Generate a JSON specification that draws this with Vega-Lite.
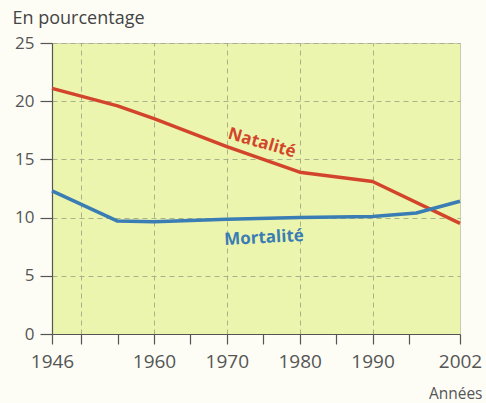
{
  "$schema": "https://vega.github.io/schema/vega-lite/v6.json",
  "width": 408,
  "height": 291,
  "autosize": {"type": "none"},
  "padding": {"left": 52, "top": 43, "right": 26, "bottom": 69},
  "background": "#fdfdf6",
  "config": {
    "view": {"stroke": "#c8cdb0", "strokeWidth": 1, "fill": "#ecf5ad"},
    "font": "Open Sans"
  },
  "datasets": {
    "series": [
      {"annee": 1946, "taux": 21.1, "serie": "Natalité"},
      {"annee": 1955, "taux": 19.6, "serie": "Natalité"},
      {"annee": 1960, "taux": 18.5, "serie": "Natalité"},
      {"annee": 1970, "taux": 16.1, "serie": "Natalité"},
      {"annee": 1980, "taux": 13.9, "serie": "Natalité"},
      {"annee": 1990, "taux": 13.1, "serie": "Natalité"},
      {"annee": 2002, "taux": 9.5, "serie": "Natalité"},
      {"annee": 1946, "taux": 12.3, "serie": "Mortalité"},
      {"annee": 1955, "taux": 9.7, "serie": "Mortalité"},
      {"annee": 1960, "taux": 9.65, "serie": "Mortalité"},
      {"annee": 1970, "taux": 9.85, "serie": "Mortalité"},
      {"annee": 1980, "taux": 10.0, "serie": "Mortalité"},
      {"annee": 1990, "taux": 10.1, "serie": "Mortalité"},
      {"annee": 1996, "taux": 10.4, "serie": "Mortalité"},
      {"annee": 2002, "taux": 11.4, "serie": "Mortalité"}
    ],
    "labels": [
      {"annee": 1974.8, "taux": 16.4, "serie": "Natalité", "angle": 16},
      {"annee": 1975.1, "taux": 8.25, "serie": "Mortalité", "angle": -3}
    ]
  },
  "resolve": {"axis": {"x": "independent"}},
  "layer": [
    {
      "data": {"name": "series"},
      "mark": {"type": "line", "strokeWidth": 3.5, "strokeJoin": "round", "strokeCap": "butt"},
      "encoding": {
        "x": {
          "field": "annee", "type": "quantitative",
          "scale": {"domain": [1946, 2002], "nice": false, "zero": false},
          "axis": {
            "orient": "top",
            "values": [1950, 1960, 1970, 1980, 1990],
            "labels": false, "ticks": false, "domain": false, "title": null,
            "grid": true, "gridDash": [5, 4], "gridColor": "#a9b08a", "gridWidth": 1
          }
        },
        "y": {
          "field": "taux", "type": "quantitative",
          "scale": {"domain": [0, 25], "nice": false},
          "axis": {
            "values": [0, 5, 10, 15, 20, 25],
            "title": "En pourcentage",
            "titleAngle": 0, "titleAlign": "left", "titleBaseline": "alphabetic",
            "titleX": -40, "titleY": -20,
            "titleFont": "Open Sans", "titleFontWeight": "normal", "titleFontSize": 18, "titleColor": "#444444",
            "grid": true, "gridDash": [5, 4], "gridColor": "#a9b08a", "gridWidth": 1,
            "domainColor": "#555555", "domainWidth": 1.2,
            "tickColor": "#555555", "tickSize": 12, "tickWidth": 1.2,
            "labelFont": "Open Sans", "labelFontSize": 17, "labelColor": "#555555",
            "labelPadding": 6
          }
        },
        "color": {
          "field": "serie", "type": "nominal",
          "scale": {"domain": ["Natalité", "Mortalité"], "range": ["#d2452c", "#3a7cb4"]},
          "legend": null
        }
      }
    },
    {
      "data": {"name": "series"},
      "mark": {"type": "point", "opacity": 0},
      "encoding": {
        "x": {
          "field": "annee", "type": "quantitative",
          "axis": {
            "orient": "bottom",
            "values": [1946, 1950, 1955, 1960, 1965, 1970, 1975, 1980, 1985, 1990, 1995, 2002],
            "labelExpr": "indexof([1946,1960,1970,1980,1990,2002], datum.value) >= 0 ? '' + datum.value : ''",
            "title": "Années", "titleAlign": "right", "titleBaseline": "alphabetic",
            "titleX": 430, "titleY": 64,
            "titleFont": "Open Sans", "titleFontWeight": "normal",
            "titleFontSize": 15.5, "titleColor": "#555555",
            "grid": false,
            "domainColor": "#555555", "domainWidth": 1.2,
            "tickColor": "#555555", "tickSize": 10, "tickWidth": 1.2,
            "labelFont": "Open Sans", "labelFontSize": 19, "labelColor": "#555555",
            "labelPadding": 8, "labelFlush": false, "labelOverlap": false
          }
        },
        "y": {"field": "taux", "type": "quantitative"}
      }
    },
    {
      "data": {"name": "labels"},
      "mark": {"type": "text", "fontSize": 17, "fontWeight": "bold", "font": "Open Sans", "align": "center", "baseline": "middle"},
      "encoding": {
        "x": {"field": "annee", "type": "quantitative", "axis": null},
        "y": {"field": "taux", "type": "quantitative"},
        "text": {"field": "serie"},
        "angle": {"field": "angle", "type": "quantitative", "scale": null},
        "color": {"field": "serie", "type": "nominal", "legend": null}
      }
    }
  ]
}
